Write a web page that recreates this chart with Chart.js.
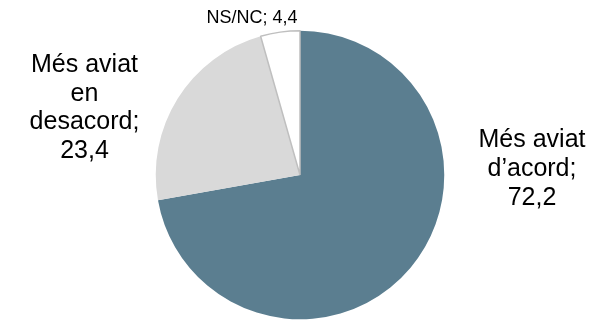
<!DOCTYPE html>
<html><head><meta charset="utf-8">
<script src="https://cdn.jsdelivr.net/npm/chart.js@4/dist/chart.umd.min.js"></script>
<style>html,body{margin:0;padding:0;background:#fff}#wrap{width:606px;height:321px;position:relative}</style>
</head><body><div id="wrap"><canvas id="c"></canvas></div>
<script>
const categories = ["Més aviat d’acord", "Més aviat en desacord", "NS/NC"];
const values = [72.2, 23.4, 4.4];
const colors = ["#5b7e90", "#d9d9d9", "#ffffff"];
const labelLines = [["Més aviat", "d’acord;", "72,2"], ["Més aviat", "en", "desacord;", "23,4"], ["NS/NC; 4,4"]];

const labelPlugin = {
  id: 'outLabels',
  afterDraw(chart) {
    const ctx = chart.ctx;
    const pos = [{x: 532, y: 147, size: 25, lh: 29}, {x: 84.5, y: 72, size: 25, lh: 28.7}, {x: 252, y: 23, size: 18, lh: 18}];
    ctx.save();
    ctx.fillStyle = '#000';
    ctx.textAlign = 'center';
    ctx.textBaseline = 'alphabetic';
    labelLines.forEach((lines, i) => {
      const p = pos[i];
      ctx.font = p.size + 'px "Liberation Sans", Arial, sans-serif';
      lines.forEach((t, j) => ctx.fillText(t, p.x, p.y + j * p.lh));
    });
    ctx.restore();
  }
};

new Chart(document.getElementById('c'), {
  type: 'pie',
  data: {
    labels: categories,
    datasets: [{
      data: values,
      backgroundColor: colors,
      borderColor: ["#5b7e90", "#d9d9d9", "#bfbfbf"],
      borderWidth: [0, 0, 1.5]
    }]
  },
  options: {
    responsive: true,
    maintainAspectRatio: false,
    animation: false,
    layout: {padding: {left: 155, right: 161, top: 30, bottom: 1}},
    plugins: {legend: {display: false}, tooltip: {enabled: false}}
  },
  plugins: [labelPlugin]
});
</script></body></html>
